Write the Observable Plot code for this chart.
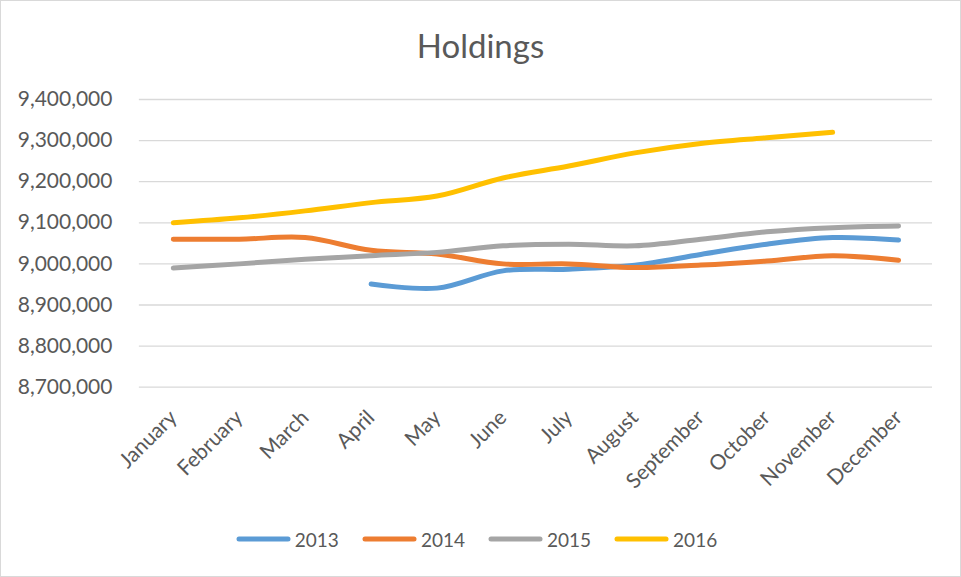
<!DOCTYPE html>
<html>
<head>
<meta charset="utf-8">
<script src="https://cdn.jsdelivr.net/npm/d3@7"></script>
<script src="https://cdn.jsdelivr.net/npm/@observablehq/plot@0.6"></script>
<style>
  body { margin: 0; background: #fff; }
  #chart { position: relative; width: 961px; height: 577px; box-sizing: border-box; border: 1px solid #d9d9d9; font-family: Lato, sans-serif; color: #595959; overflow: hidden; background: #fff; }
  #title { position: absolute; left: 0; right: 0; top: 28px; text-align: center; font-size: 33px; line-height: 33px; }
  #plot { position: absolute; left: -1px; top: 79px; }
  #legend { position: absolute; left: 0; right: 0; top: 525px; height: 26px; display: flex; justify-content: center; align-items: center; padding-right: 8px; font-size: 19px; }
  .item { display: flex; align-items: center; margin: 0 11.5px; }
  .item svg { margin-right: 4px; }
</style>
</head>
<body>
<div id="chart">
  <div id="title">Holdings</div>
  <div id="plot"></div>
  <div id="legend"></div>
</div>
<script>
const months = ["January","February","March","April","May","June","July","August","September","October","November","December"];
const years = ["2013","2014","2015","2016"];
const colors = ["#5B9BD5","#ED7D31","#A5A5A5","#FFC000"];
const v2013 = [null,null,null,8951000,8941000,8983000,8987000,8997000,9023000,9048000,9064000,9058000];
const v2014 = [9060000,9060000,9064000,9033000,9024000,9000000,9000000,8991000,8997000,9007000,9020000,9009000];
const v2015 = [8990000,9000000,9011000,9020000,9028000,9044000,9048000,9044000,9060000,9078000,9088000,9092000];
const v2016 = [9100000,9112000,9129000,9149000,9165000,9209000,9238000,9270000,9293000,9307000,9320000,null];
const yTicks = [8700000,8800000,8900000,9000000,9100000,9200000,9300000,9400000];

const series = [v2013, v2014, v2015, v2016];
const data = [];
series.forEach((vals, i) => vals.forEach((v, j) => { if (v != null) data.push({year: years[i], month: months[j], value: v}); }));

const fmt = d3.format(",");
const chart = Plot.plot({
  width: 961, height: 420,
  marginLeft: 139, marginRight: 28, marginTop: 19, marginBottom: 113,
  style: { fontFamily: "Lato, sans-serif", fontSize: "21px", color: "#595959", background: "transparent", overflow: "visible" },
  x: { type: "point", domain: months, padding: 0.5, label: null },
  y: { domain: [8700000, 9400000], label: null },
  color: { domain: years, range: colors },
  marks: [
    Plot.gridY(yTicks, { stroke: "#d9d9d9", strokeOpacity: 1, strokeWidth: 1.3 }),
    Plot.axisY(yTicks, { tickSize: 0, tickPadding: 27, tickFormat: fmt, fontSize: 21, label: null }),
    Plot.axisX({ tickSize: 0, tickRotate: -45, tickPadding: 27, fontSize: 21, label: null }),
    Plot.line(data, { x: "month", y: "value", z: "year", stroke: "year", strokeWidth: 5, curve: "catmull-rom", strokeLinecap: "round", strokeLinejoin: "round" })
  ]
});
document.getElementById("plot").appendChild(chart);

const legend = document.getElementById("legend");
years.forEach((y, i) => {
  const item = document.createElement("div");
  item.className = "item";
  item.innerHTML = `<svg width="55" height="8"><line x1="3" y1="4" x2="52" y2="4" stroke="${colors[i]}" stroke-width="5" stroke-linecap="round"/></svg><span>${y}</span>`;
  legend.appendChild(item);
});
</script>
</body>
</html>
